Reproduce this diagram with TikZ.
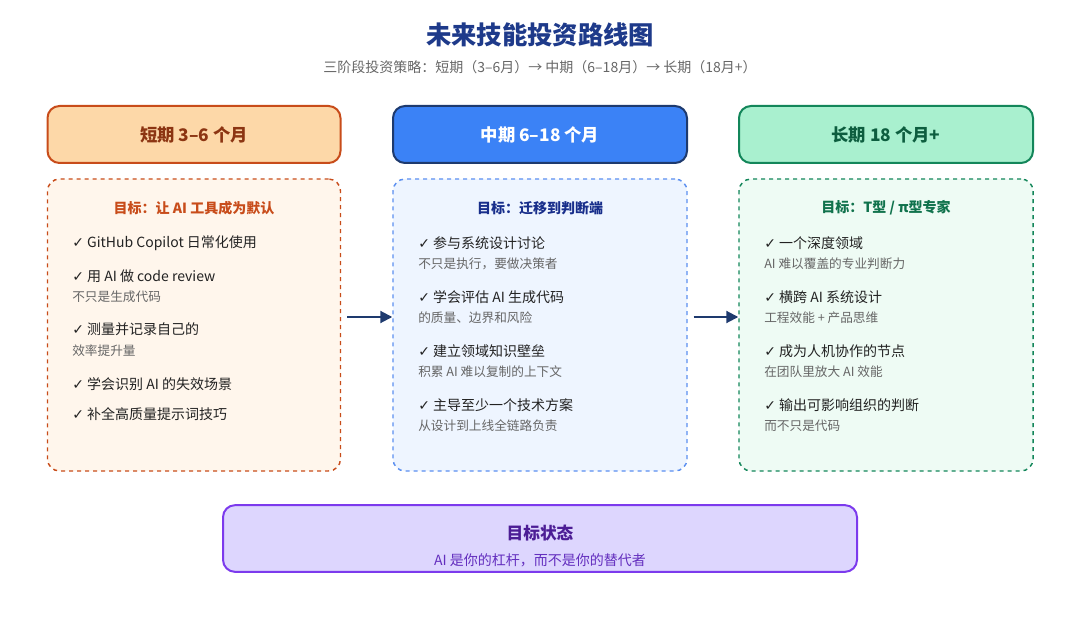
\documentclass[tikz,border=0pt]{standalone}
\usepackage{fontspec}
\setmainfont{Noto Sans CJK SC}
\newfontfamily\symfont{DejaVu Sans}
\usetikzlibrary{arrows.meta}
\definecolor{orgline}{HTML}{C84C1A}
\definecolor{orgfill}{HTML}{FDD8A8}
\definecolor{orgbg}{HTML}{FFF6EC}
\definecolor{blueline}{HTML}{1E3A6E}
\definecolor{bluefill}{HTML}{3B82F6}
\definecolor{bluebg}{HTML}{EEF5FF}
\definecolor{bluedash}{HTML}{5B8FF0}
\definecolor{grnline}{HTML}{13865A}
\definecolor{grnfill}{HTML}{A9F0CF}
\definecolor{grnbg}{HTML}{EEFBF4}
\definecolor{purline}{HTML}{7C3AED}
\definecolor{purfill}{HTML}{DDD6FE}
\definecolor{purtext}{HTML}{4C1D95}
\definecolor{txt}{HTML}{222222}
\definecolor{subtxt}{HTML}{666666}
\newcommand{\ck}{{\symfont\char"2713}\ }
\begin{document}
\begin{tikzpicture}[x=0.75pt,y=-0.75pt,
    header/.style={draw,line width=1.5pt,rounded corners=9pt,font=\fontsize{13}{15}\selectfont\bfseries},
    panel/.style={draw,dashed,line width=1.1pt,rounded corners=9pt},
    item/.style={anchor=west,inner sep=0pt,text=txt,font=\fontsize{10.5}{12}\selectfont},
    note/.style={anchor=west,inner sep=0pt,text=subtxt,font=\fontsize{9.5}{11}\selectfont},
    goal/.style={inner sep=0pt,font=\fontsize{10.5}{12}\selectfont\bfseries},
    flow/.style={-{Triangle[length=9pt,width=9pt]},line width=1.5pt,blueline}]
  \useasboundingbox (0,0) rectangle (1080,634);

  \node (title) at (540,35) {\fontsize{19}{22}\selectfont\bfseries\color[HTML]{1E3A8A}未来技能投资路线图};
  \node (sub) at (540,67) {\fontsize{10.5}{12}\selectfont\color{subtxt}三阶段投资策略：短期（3–6月）→ 中期（6–18月）→ 长期（18月+）};

  % headers
  \node[header,fill=orgfill,draw=orgline,text=orgline!70!black,minimum width=219.75pt,minimum height=42.75pt] (hshort) at (194,134.5) {短期 3–6 个月};
  \node[header,fill=bluefill,draw=blueline,text=white,minimum width=220.5pt,minimum height=42.75pt] (hmid) at (540,134.5) {中期 6–18 个月};
  \node[header,fill=grnfill,draw=grnline,text=grnline!70!black,minimum width=220.5pt,minimum height=42.75pt] (hlong) at (886,134.5) {长期 18 个月+};

  % panels
  \node[panel,fill=orgbg,draw=orgline,minimum width=219.75pt,minimum height=219pt] (pshort) at (194,325) {};
  \node[panel,fill=bluebg,draw=bluedash,minimum width=220.5pt,minimum height=219pt] (pmid) at (540,325) {};
  \node[panel,fill=grnbg,draw=grnline,minimum width=220.5pt,minimum height=219pt] (plong) at (886,325) {};

  \draw[flow] (pshort.east) ++(6,-8) coordinate (a1) -- (a1 -| pmid.west);
  \draw[flow] (pmid.east) ++(6,-8) coordinate (a2) -- (a2 -| plong.west);

  % short term
  \node[goal,text=orgline] (gshort) at (194,208) {目标：让 AI 工具成为默认};
  \node[item] (s1) at (72,243) {\ck GitHub Copilot 日常化使用};
  \node[item] (s2) at (72,276) {\ck 用 AI 做 code review};
  \node[note] (s2n) at (72,297) {不只是生成代码};
  \node[item] (s3) at (72,329) {\ck 测量并记录自己的};
  \node[note] (s3n) at (72,351) {效率提升量};
  \node[item] (s4) at (72,384) {\ck 学会识别 AI 的失效场景};
  \node[item] (s5) at (72,414) {\ck 补全高质量提示词技巧};

  % mid term
  \node[goal,text=blueline!80!blue] (gmid) at (540,208) {目标：迁移到判断端};
  \node[item] (m1) at (418,243) {\ck 参与系统设计讨论};
  \node[note] (m1n) at (418,264) {不只是执行，要做决策者};
  \node[item] (m2) at (418,297) {\ck 学会评估 AI 生成代码};
  \node[note] (m2n) at (418,318) {的质量、边界和风险};
  \node[item] (m3) at (418,351) {\ck 建立领域知识壁垒};
  \node[note] (m3n) at (418,372) {积累 AI 难以复制的上下文};
  \node[item] (m4) at (418,405) {\ck 主导至少一个技术方案};
  \node[note] (m4n) at (418,426) {从设计到上线全链路负责};

  % long term
  \node[goal,text=grnline!85!black] (glong) at (886,208) {目标：T型 / π型专家};
  \node[item] (l1) at (764,243) {\ck 一个深度领域};
  \node[note] (l1n) at (764,264) {AI 难以覆盖的专业判断力};
  \node[item] (l2) at (764,297) {\ck 横跨 AI 系统设计};
  \node[note] (l2n) at (764,318) {工程效能 + 产品思维};
  \node[item] (l3) at (764,351) {\ck 成为人机协作的节点};
  \node[note] (l3n) at (764,372) {在团队里放大 AI 效能};
  \node[item] (l4) at (764,405) {\ck 输出可影响组织的判断};
  \node[note] (l4n) at (764,426) {而不只是代码};

  % target state
  \node[draw=purline,fill=purfill,line width=1.5pt,rounded corners=9pt,minimum width=475.5pt,minimum height=50pt] (target) at (540,538.5) {};
  \node[font=\fontsize{12.5}{14}\selectfont\bfseries,text=purtext] (ttl) at (540,533) {目标状态};
  \node[font=\fontsize{10.5}{12}\selectfont,text=purline!80!black] (tsub) at (540,560) {AI 是你的杠杆，而不是你的替代者};
\end{tikzpicture}
\end{document}
